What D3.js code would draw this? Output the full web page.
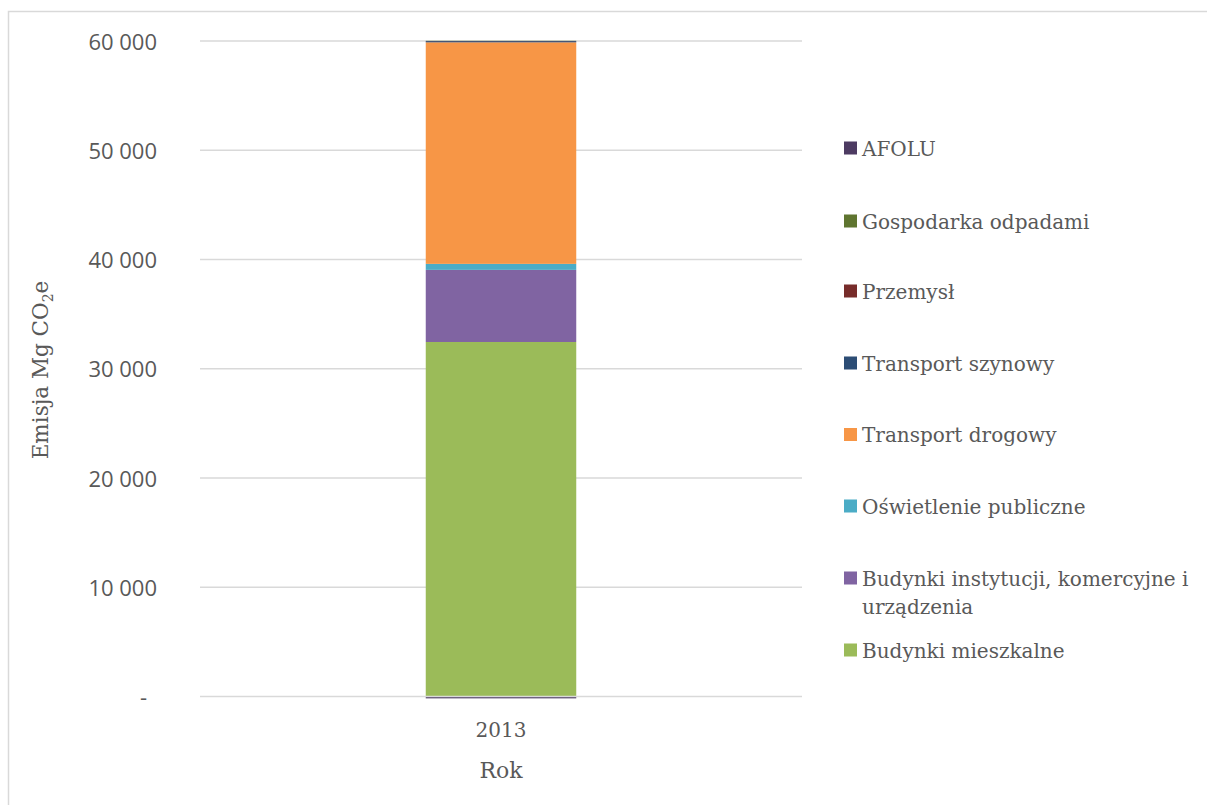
<!DOCTYPE html>
<html><head><meta charset="utf-8">
<script src="https://cdn.jsdelivr.net/npm/d3@7"></script>
<style>body{margin:0;background:#fff}svg{display:block}</style>
</head><body><svg id="c" width="1207" height="805"></svg>
<script>
const categories = ["2013"];
const seriesNames = ["Budynki mieszkalne","Budynki instytucji, komercyjne i urządzenia","Oświetlenie publiczne","Transport drogowy","Transport szynowy","Przemysł","Gospodarka odpadami","AFOLU"];
const seriesColors = ["#9BBB59","#8064A2","#4BACC6","#F79646","#2C4D75","#772C2A","#5F7530","#4D3B62"];
const values2013 = [32450, 6600, 550, 20280, 110, 10, 20, -170];
const yTicks = [0,10000,20000,30000,40000,50000,60000];
const yTickLabels = ["-","10 000","20 000","30 000","40 000","50 000","60 000"];
const legendOrder = ["AFOLU","Gospodarka odpadami","Przemysł","Transport szynowy","Transport drogowy","Oświetlenie publiczne","Budynki instytucji, komercyjne i urządzenia","Budynki mieszkalne"];

const svg = d3.select("#c");
const serif = "'DejaVu Serif', serif";
const sans = "'Open Sans', sans-serif";
const txt = "#595959";

svg.append("rect").attr("x",8.5).attr("y",11.5).attr("width",1300).attr("height",900)
  .attr("fill","none").attr("stroke","#d9d9d9").attr("stroke-width",1.5);

const x = d3.scaleBand().domain(categories).range([200,802]).padding(0.6);
const y = d3.scaleLinear().domain([0,60000]).range([696.5,41]);

const rows = categories.map((c,i)=>{const o={cat:c}; seriesNames.forEach((s,j)=>o[s]=values2013[j]); return o;});
const stack = d3.stack().keys(seriesNames).offset(d3.stackOffsetDiverging)(rows);

// gridlines
svg.append("g").selectAll("line").data(yTicks.filter(t=>t>0)).join("line")
  .attr("x1",200).attr("x2",802).attr("y1",d=>y(d)).attr("y2",d=>y(d))
  .attr("stroke","#d9d9d9").attr("stroke-width",1.3);

// bars
stack.forEach((layer,i)=>{
  svg.append("g").selectAll("rect").data(layer).join("rect")
    .attr("x",d=>x(d.data.cat)).attr("width",x.bandwidth())
    .attr("y",d=>y(Math.max(d[0],d[1]))).attr("height",d=>Math.abs(y(d[0])-y(d[1])))
    .attr("fill",seriesColors[i]);
});

// zero axis line
svg.append("line").attr("x1",200).attr("x2",802).attr("y1",y(0)).attr("y2",y(0))
  .attr("stroke","#d9d9d9").attr("stroke-width",1.3);

// y tick labels
svg.append("g").selectAll("text").data(yTicks).join("text")
  .attr("x",(d,i)=>i===0?147:157).attr("y",d=>y(d)+8.5)
  .attr("text-anchor","end").attr("font-family",sans).attr("font-size",22).attr("fill",txt)
  .text((d,i)=>yTickLabels[i]);

// x tick labels
svg.append("g").selectAll("text").data(categories).join("text")
  .attr("x",d=>x(d)+x.bandwidth()/2).attr("y",737)
  .attr("text-anchor","middle").attr("font-family",serif).attr("font-size",20).attr("fill",txt)
  .text(d=>d);

// axis titles
svg.append("text").attr("x",x(categories[0])+x.bandwidth()/2).attr("y",778)
  .attr("text-anchor","middle").attr("font-family",serif).attr("font-size",22).attr("fill",txt).text("Rok");
const yt = svg.append("text").attr("transform","translate(48,370) rotate(-90)")
  .attr("text-anchor","middle").attr("font-family",serif).attr("font-size",21.5).attr("fill",txt);
yt.append("tspan").text("Emisja Mg CO");
yt.append("tspan").attr("font-size",14).attr("dy",5).text("2");
yt.append("tspan").attr("dy",-5).text("e");

// legend
const legY = {"AFOLU":148,"Gospodarka odpadami":221,"Przemysł":291,"Transport szynowy":363,"Transport drogowy":434.5,"Oświetlenie publiczne":506,"Budynki instytucji, komercyjne i urządzenia":578,"Budynki mieszkalne":650};
const lg = svg.append("g");
legendOrder.forEach(name=>{
  const j = seriesNames.indexOf(name);
  const cy = legY[name];
  lg.append("rect").attr("x",844).attr("y",cy-6.5).attr("width",13).attr("height",13).attr("fill",seriesColors[j]);
  const t = lg.append("text").attr("x",862).attr("y",cy+7.5).attr("font-family",serif).attr("font-size",20).attr("fill",txt);
  if(name.startsWith("Budynki instytucji")){
    t.append("tspan").attr("x",862).text("Budynki instytucji, komercyjne i");
    t.append("tspan").attr("x",862).attr("dy",28).text("urządzenia");
  } else t.text(name);
});
</script></body></html>
